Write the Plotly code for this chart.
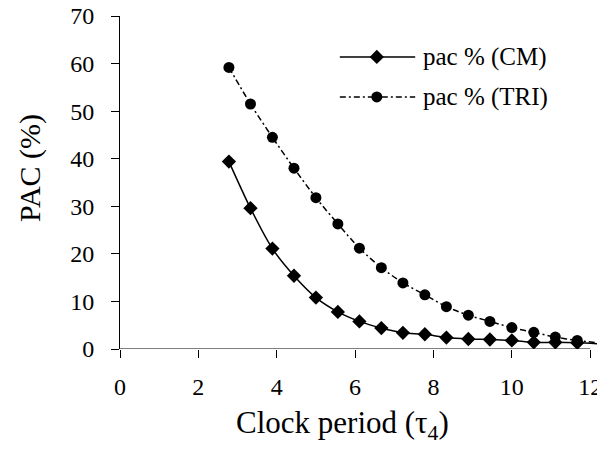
import plotly.graph_objects as go

# ---- data ----
clock_period = [2.78, 3.33, 3.89, 4.44, 5.00, 5.56, 6.11, 6.67, 7.22, 7.78,
                8.33, 8.89, 9.44, 10.00, 10.56, 11.11, 11.67, 12.22]
pac_cm = [39.4, 29.6, 21.1, 15.4, 10.8, 7.8, 5.8, 4.4, 3.4, 3.1,
          2.4, 2.1, 2.0, 1.8, 1.4, 1.4, 1.3, 1.1]
pac_tri = [59.2, 51.5, 44.5, 38.0, 31.8, 26.3, 21.2, 17.1, 13.9, 11.4,
           8.9, 7.1, 5.8, 4.5, 3.5, 2.5, 1.8, 1.3]
series_names = ["pac % (CM)", "pac % (TRI)"]
x_ticks = [0, 2, 4, 6, 8, 10, 12]
y_ticks = [0, 10, 20, 30, 40, 50, 60, 70]
x_title = "Clock period (τ<sub>4</sub>)"
y_title = "PAC (%)"

FONT = "Liberation Serif"
TRI_DASH = "6px,3px,2px,3px"

# last sample lies past the last tick: drawn as line only
marker_sizes = [11] * (len(clock_period) - 1) + [0]
MK = dict(color="black", opacity=1, line=dict(width=0, color="black"))

fig = go.Figure()
fig.add_trace(go.Scatter(
    x=clock_period, y=pac_cm, mode="lines+markers", name=series_names[0],
    line=dict(color="black", width=1.5, shape="spline", smoothing=0.8),
    marker=dict(symbol="diamond", size=marker_sizes, **MK),
    showlegend=False,
))
fig.add_trace(go.Scatter(
    x=clock_period, y=pac_tri, mode="lines+markers", name=series_names[1],
    line=dict(color="black", width=1.5, shape="spline", smoothing=0.8, dash=TRI_DASH),
    marker=dict(symbol="circle", size=marker_sizes, **MK),
    showlegend=False,
))

# custom legend (long Excel-style sample lines) drawn on a hidden 0..1 overlay axis
leg_x = [0.458, 0.535, 0.615]
leg_rows = [0.877, 0.757]
fig.add_trace(go.Scatter(
    x=leg_x, y=[leg_rows[0]] * 3, xaxis="x2", yaxis="y2", mode="lines+markers",
    line=dict(color="black", width=1.5),
    marker=dict(symbol="diamond", size=[0, 11, 0], **MK),
    showlegend=False, hoverinfo="skip",
))
fig.add_trace(go.Scatter(
    x=leg_x, y=[leg_rows[1]] * 3, xaxis="x2", yaxis="y2", mode="lines+markers",
    line=dict(color="black", width=1.5, dash=TRI_DASH),
    marker=dict(symbol="circle", size=[0, 11, 0], **MK),
    showlegend=False, hoverinfo="skip",
))
for name, yy in zip(series_names, leg_rows):
    fig.add_annotation(x=0.627, y=yy, xref="x2", yref="y2", text=name,
                       showarrow=False, xanchor="left", yanchor="middle",
                       font=dict(family=FONT, size=25, color="black"))

# axis titles (placed as in the reference, slightly off-centre)
fig.add_annotation(x=0.4625, y=-0.228, xref="paper", yref="paper", text=x_title,
                   showarrow=False, xanchor="center", yanchor="middle",
                   font=dict(family=FONT, size=31, color="black"))
fig.add_annotation(x=-0.1875, y=0.5435, xref="paper", yref="paper", text=y_title,
                   showarrow=False, xanchor="center", yanchor="middle", textangle=-90,
                   font=dict(family=FONT, size=30, color="black"))

# x axis line only up to the last tick
fig.add_shape(type="line", xref="x", yref="y", x0=0, x1=12, y0=0, y1=0,
              line=dict(color="black", width=1))

# the page places the figure 8px in from the top-left corner
fig.update_layout(
    width=605, height=449,
    margin=dict(l=112, r=13, t=8, b=108, autoexpand=False),
    paper_bgcolor="white", plot_bgcolor="white",
    font=dict(family=FONT, color="black"),
    xaxis=dict(
        range=[0, 12.25], tickvals=x_ticks, ticks="outside", ticklen=8,
        tickcolor="black", showline=False, showgrid=False, zeroline=False,
        tickfont=dict(family=FONT, size=24), automargin=False,
        ticklabelstandoff=8, ticklabeloverflow="allow",
    ),
    yaxis=dict(
        range=[0, 70], tickvals=y_ticks, ticks="outside", ticklen=8,
        tickcolor="black", showline=True, linecolor="black", linewidth=1,
        showgrid=False, zeroline=False, tickfont=dict(family=FONT, size=24),
        automargin=False, ticklabelstandoff=12, ticklabeloverflow="allow",
    ),
    xaxis2=dict(overlaying="x", range=[0, 1], visible=False),
    yaxis2=dict(overlaying="y", range=[0, 1], visible=False),
)

fig.write_html("out.html")
